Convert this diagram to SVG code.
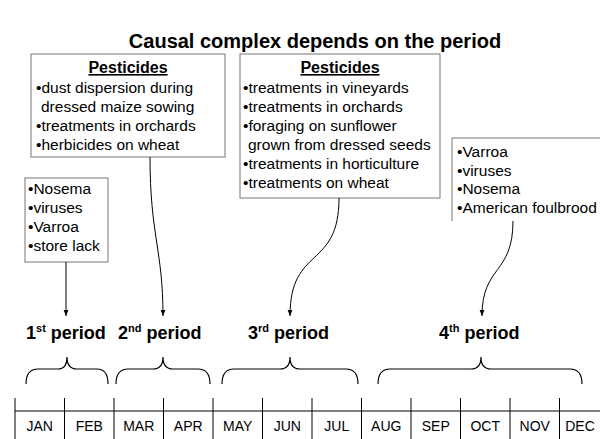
<svg xmlns="http://www.w3.org/2000/svg" width="600" height="439" viewBox="0 0 600 439">
<defs>
<style>
text{font-family:"Liberation Sans",Arial,sans-serif;fill:#000}
.t{font-size:20px;font-weight:bold}
.b{font-size:15.5px}
.h{font-size:16px;font-weight:bold;text-decoration:underline}
.p{font-size:18px;font-weight:bold}
.m{font-size:14px}
.box{fill:#fff;stroke:#777;stroke-width:1}
.ln{fill:none;stroke:#000;stroke-width:1}
.br{fill:none;stroke:#000;stroke-width:1.2}
</style>
<marker id="ah" viewBox="0 0 10 10" refX="10" refY="5" markerWidth="6" markerHeight="6" orient="auto" markerUnits="userSpaceOnUse">
<path d="M0,1 L10,5 L0,9 z" fill="#000"/>
</marker>
</defs>
<rect width="600" height="439" fill="#fff"/>
<text class="t" x="315" y="48" text-anchor="middle">Causal complex depends on the period</text>

<g id="box-pest2">
<rect class="box" x="31" y="54" width="194" height="103"/>
<text class="h" x="128" y="73" text-anchor="middle">Pesticides</text>
<text class="b" x="36" y="93">•dust dispersion during</text>
<text class="b" x="41" y="112">dressed maize sowing</text>
<text class="b" x="36" y="131">•treatments in orchards</text>
<text class="b" x="36" y="150">•herbicides on wheat</text>
</g>

<g id="box-pest3">
<rect class="box" x="240" y="54" width="200" height="144"/>
<text class="h" x="340" y="73" text-anchor="middle">Pesticides</text>
<text class="b" x="243" y="93">•treatments in vineyards</text>
<text class="b" x="243" y="112">•treatments in orchards</text>
<text class="b" x="243" y="131">•foraging on sunflower</text>
<text class="b" x="248" y="150">grown from dressed seeds</text>
<text class="b" x="243" y="169">•treatments in horticulture</text>
<text class="b" x="243" y="188">•treatments on wheat</text>
</g>

<g id="box-p1">
<rect class="box" x="25" y="178" width="83" height="84"/>
<text class="b" x="28" y="194">•Nosema</text>
<text class="b" x="28" y="213">•viruses</text>
<text class="b" x="28" y="232">•Varroa</text>
<text class="b" x="28" y="251">•store lack</text>
</g>

<g id="box-p4">
<path class="box" d="M600,138 H452 V221" fill="none"/>
<text class="b" x="457" y="157">•Varroa</text>
<text class="b" x="457" y="176">•viruses</text>
<text class="b" x="457" y="194">•Nosema</text>
<text class="b" x="457" y="213">•American foulbrood</text>
</g>

<g id="connectors">
<path class="ln" d="M66,262 V316" marker-end="url(#ah)"/>
<path class="ln" d="M150,157 C150,235 163,250 163,316" marker-end="url(#ah)"/>
<path class="ln" d="M339,198 C339,270 290,245 290,316" marker-end="url(#ah)"/>
<path class="ln" d="M513,221 C513,275 482,265 482,316" marker-end="url(#ah)"/>
</g>

<g id="periods">
<text class="p" x="26" y="339">1<tspan font-size="11" dy="-7">st</tspan><tspan dy="7"> period</tspan></text>
<text class="p" x="118" y="339">2<tspan font-size="11" dy="-7">nd</tspan><tspan dy="7"> period</tspan></text>
<text class="p" x="248" y="339">3<tspan font-size="11" dy="-7">rd</tspan><tspan dy="7"> period</tspan></text>
<text class="p" x="439" y="339">4<tspan font-size="11" dy="-7">th</tspan><tspan dy="7"> period</tspan></text>
</g>

<g id="braces">
<path class="br" d="M26,384 Q26,369 38,369 H58 Q67,369 67,357 Q67,369 77,369 H97 Q108,369 108,384"/>
<path class="br" d="M116,384 Q116,369 128,369 H153 Q163,369 163,357 Q163,369 173,369 H198 Q210,369 210,384"/>
<path class="br" d="M222,384 Q222,369 234,369 H280 Q290,369 290,357 Q290,369 300,369 H346 Q358,369 358,384"/>
<path class="br" d="M378,384 Q378,369 390,369 H471 Q481,369 481,357 Q481,369 491,369 H570 Q582,369 582,384"/>
</g>

<g id="timeline">
<path class="ln" d="M15,411 H600 M15,398 V439 M64.5,398 V439 M114,398 V439 M163.5,398 V439 M213,398 V439 M262.5,398 V439 M312,398 V439 M361.5,398 V439 M411,398 V439 M460.5,398 V439 M510,398 V439 M559.5,398 V439"/>
<text class="m" x="39.75" y="431" text-anchor="middle">JAN</text>
<text class="m" x="89.25" y="431" text-anchor="middle">FEB</text>
<text class="m" x="138.75" y="431" text-anchor="middle">MAR</text>
<text class="m" x="188.25" y="431" text-anchor="middle">APR</text>
<text class="m" x="237.75" y="431" text-anchor="middle">MAY</text>
<text class="m" x="287.25" y="431" text-anchor="middle">JUN</text>
<text class="m" x="336.75" y="431" text-anchor="middle">JUL</text>
<text class="m" x="386.25" y="431" text-anchor="middle">AUG</text>
<text class="m" x="435.75" y="431" text-anchor="middle">SEP</text>
<text class="m" x="485.25" y="431" text-anchor="middle">OCT</text>
<text class="m" x="534.75" y="431" text-anchor="middle">NOV</text>
<text class="m" x="580" y="431" text-anchor="middle">DEC</text>
</g>
</svg>
